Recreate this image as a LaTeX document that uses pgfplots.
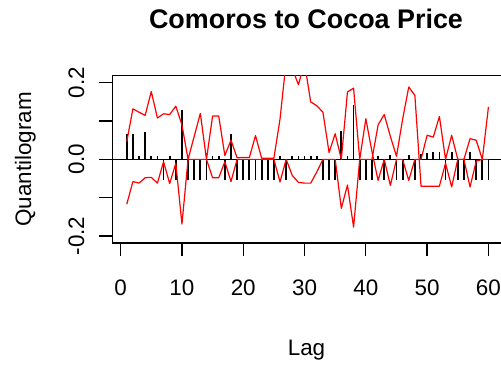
\documentclass[border=0pt]{standalone}
\usepackage{fontspec}
\setmainfont{Liberation Sans}
\usepackage{pgfplots}
\pgfplotsset{compat=1.18}
\usepackage{pgfplotstable}

\pgfplotstableread{
lag spike up lo
1 0.067 0.046 -0.117
2 0.067 0.132 -0.058
3 0.009 0.123 -0.062
4 0.071 0.115 -0.048
5 0.008 0.177 -0.047
6 0.008 0.108 -0.062
7 -0.055 0.119 -0.006
8 0.008 0.117 -0.063
9 -0.055 0.139 -0.010
10 0.130 0.090 -0.169
11 -0.055 0.000 0.000
12 -0.055 0.060 0.000
13 -0.055 0.120 0.000
14 -0.055 0.000 0.000
15 0.008 0.113 -0.048
16 0.008 0.113 -0.048
17 -0.055 0.010 -0.006
18 0.066 0.050 -0.058
19 -0.055 0.004 0.000
20 -0.055 0.005 0.000
21 -0.055 0.005 0.000
22 -0.055 0.062 0.000
23 -0.055 0.003 0.000
24 -0.055 0.003 0.000
25 -0.055 0.003 0.000
26 0.008 0.105 -0.059
27 -0.055 0.256 0.000
28 0.008 0.237 -0.042
29 0.008 0.195 -0.060
30 0.010 0.252 -0.062
31 0.010 0.150 -0.062
32 0.010 0.140 -0.033
33 -0.055 0.123 0.000
34 -0.055 0.018 0.000
35 -0.055 0.067 0.000
36 0.075 0.000 -0.128
37 0.010 0.176 -0.067
38 0.142 0.186 -0.177
39 -0.055 0.000 0.000
40 -0.055 0.106 0.000
41 -0.055 0.020 0.000
42 0.010 -0.055 0.090
43 -0.055 0.000 0.117
44 0.012 -0.068 0.060
45 -0.055 0.000 0.008
46 -0.055 0.000 0.105
47 0.012 -0.055 0.189
48 -0.055 0.000 0.167
49 0.015 0.000 -0.070
50 0.017 0.063 -0.070
51 0.018 0.058 -0.070
52 0.019 0.112 -0.070
53 -0.055 0.000 -0.010
54 0.020 0.063 -0.072
55 -0.055 0.000 0.000
56 -0.055 0.000 0.000
57 0.020 0.054 -0.072
58 -0.055 0.050 -0.005
59 -0.055 0.000 0.000
60 -0.055 0.137 0.000
}\qdata

\begin{document}
\begin{tikzpicture}[x=1bp,y=1bp]
\useasboundingbox (0,0) rectangle (501,-365);
\begin{axis}[
  at={(112.3bp,-243bp)}, anchor=south west,
  scale only axis, width=390.6bp, height=167.3bp,
  xmin=-1.36, xmax=62.36, ymin=-0.2184, ymax=0.2184,
  axis line style={line width=1.3bp},
  every tick/.style={black, line width=1.3bp},
  tick align=outside, major tick length=13bp,
  xtick={0,10,20,30,40,50,60}, xticklabels={0,10,20,30,40,50,60},
  ytick={-0.2,-0.1,0,0.1,0.2}, yticklabels={-0.2,{},0.0,{},0.2},
  xtick pos=left, ytick pos=left,
  ticklabel style={font=\fontsize{22.5}{27}\selectfont, inner sep=0pt, outer sep=0pt},
  xticklabel style={anchor=base, yshift=-39bp},
  yticklabel style={anchor=base, xshift=-15.3bp, rotate=90},
  clip mode=individual,
]
\addplot[black, line width=1.3bp] coordinates {(-1.36,0) (62.36,0)};
\addplot[ycomb, black, line width=1.8bp] table[x=lag, y=spike] {\qdata};
\addplot[red, line width=1.2bp, line join=round] table[x=lag, y=up] {\qdata};
\addplot[red, line width=1.2bp, line join=round] table[x=lag, y=lo] {\qdata};
\end{axis}
\node[anchor=base, font=\fontsize{27}{32}\selectfont\bfseries] at (306,-28.3) {Comoros to Cocoa Price};
\node[anchor=base, font=\fontsize{22.5}{27}\selectfont] at (306.5,-355) {Lag};
\node[anchor=base, rotate=90, font=\fontsize{22.5}{27}\selectfont] at (31,-159.4) {Quantilogram};
\end{tikzpicture}
\end{document}
